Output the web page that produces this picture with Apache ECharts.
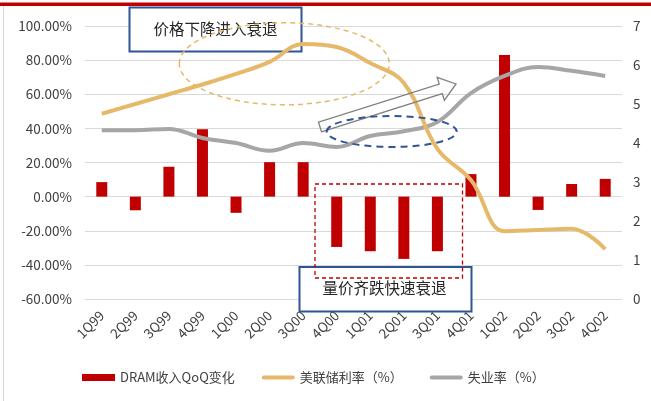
<!DOCTYPE html>
<html><head><meta charset="utf-8">
<script src="https://cdn.jsdelivr.net/npm/echarts@6/dist/echarts.min.js"></script>
<style>html,body{margin:0;padding:0;background:#fff}#c{width:651px;height:401px}</style>
</head><body><div id="c"></div><script>
const categories = ['1Q99','2Q99','3Q99','4Q99','1Q00','2Q00','3Q00','4Q00','1Q01','2Q01','3Q01','4Q01','1Q02','2Q02','3Q02','4Q02'];
const dramQoQ = [8.5, -8, 17.5, 39.5, -9.5, 20.2, 20.2, -29.5, -32, -36.5, -32, 13.2, 83, -7.8, 7.4, 10.4];
const fedRate = [4.75, 5.0, 5.25, 5.5, 5.77, 6.08, 6.54, 6.46, 6.05, 5.54, 3.85, 3.05, 1.74, 1.77, 1.8, 1.28];
const unemployment = [4.33, 4.33, 4.36, 4.13, 4.0, 3.8, 4.0, 3.9, 4.18, 4.3, 4.54, 5.28, 5.72, 5.95, 5.85, 5.72];
const seriesNames = ['DRAM收入QoQ变化', '美联储利率（%）', '失业率（%）'];
const notes = ['价格下降进入衰退', '量价齐跌快速衰退'];

const FONT = '"Noto Sans CJK SC", "Noto Sans", sans-serif';
const chart = echarts.init(document.getElementById('c'), null, {renderer: 'canvas'});

// arrow annotation geometry
const S = [320, 127], E = [456, 84];
const dx = E[0]-S[0], dy = E[1]-S[1], len = Math.hypot(dx, dy);
const u = [dx/len, dy/len], n = [-u[1], u[0]];
const w = 5, H = 12, L = 16;
const B = [E[0]-u[0]*L, E[1]-u[1]*L];
const P = (p, k) => [p[0]+n[0]*k, p[1]+n[1]*k];
const arrowPts = [P(S, w), P(B, w), P(B, H), E, P(B, -H), P(B, -w), P(S, -w)];
const lineIcon = 'path://M2,0 H31 A2,2 0 0 1 31,4 H2 A2,2 0 0 1 2,0 Z';

chart.setOption({
  animation: false,
  backgroundColor: '#fff',
  grid: {left: 85, right: 29, top: 26, bottom: 102, containLabel: false},
  legend: {
    left: 77, top: 366, itemWidth: 33, itemHeight: 7, itemGap: 27,
    textStyle: {fontSize: 13, color: '#404040', fontFamily: FONT},
    data: [
      {name: seriesNames[0], icon: 'rect'},
      {name: seriesNames[1], icon: lineIcon},
      {name: seriesNames[2], icon: lineIcon}
    ]
  },
  xAxis: {
    type: 'category', data: categories, boundaryGap: true,
    axisLine: {show: false}, axisTick: {show: false},
    axisLabel: {rotate: 45, fontSize: 13.5, color: '#404040', fontFamily: FONT, margin: 14, interval: 0}
  },
  yAxis: [{
    type: 'value', min: -60, max: 100, interval: 20,
    axisLine: {show: false}, axisTick: {show: false},
    splitLine: {lineStyle: {color: '#D9D9D9', width: 1}},
    axisLabel: {formatter: v => v.toFixed(2) + '%', fontSize: 13.5, color: '#404040', fontFamily: FONT, margin: 13}
  }, {
    type: 'value', min: 0, max: 7, interval: 1, position: 'right',
    axisLine: {show: false}, axisTick: {show: false}, splitLine: {show: false},
    axisLabel: {fontSize: 13.5, color: '#404040', fontFamily: FONT, margin: 11}
  }],
  series: [{
    name: seriesNames[0], type: 'bar', data: dramQoQ, yAxisIndex: 0,
    barWidth: 11, itemStyle: {color: '#C00000'}, z: 2
  }, {
    name: seriesNames[2], type: 'line', data: unemployment, yAxisIndex: 1,
    smooth: 0.4, symbol: 'none', lineStyle: {color: '#A6A6A6', width: 4}, itemStyle: {color: '#A6A6A6'}, z: 3
  }, {
    name: seriesNames[1], type: 'line', data: fedRate, yAxisIndex: 1,
    smooth: 0.4, symbol: 'none', lineStyle: {color: '#E6B96A', width: 4}, itemStyle: {color: '#E6B96A'}, z: 4
  }],
  graphic: [
    {type: 'rect', z: 100, shape: {x: 0, y: 2.5, width: 651, height: 3.5}, style: {fill: '#C00000'}},
    {type: 'line', z: 100, shape: {x1: 3.5, y1: 6, x2: 3.5, y2: 401}, style: {stroke: '#D9D9D9', lineWidth: 1}},
    {type: 'rect', z: 1, shape: {x: 129.5, y: 7.5, width: 172, height: 44}, style: {fill: '#fff', stroke: '#2F5597', lineWidth: 2}},
    {type: 'text', z: 1, style: {x: 215.5, y: 29.5, text: notes[0], align: 'center', verticalAlign: 'middle', fontSize: 15.5, fill: '#262626', fontFamily: FONT}},
    {type: 'ellipse', z: 102, shape: {cx: 284.3, cy: 63.8, rx: 105, ry: 41}, style: {fill: 'none', stroke: '#E6B96A', lineWidth: 1.5, lineDash: [5, 4]}},
    {type: 'polygon', z: 102, shape: {points: arrowPts}, style: {fill: 'none', stroke: '#7F7F7F', lineWidth: 1.3}},
    {type: 'ellipse', z: 102, shape: {cx: 391.7, cy: 131.5, rx: 65, ry: 15.5}, style: {fill: 'none', stroke: '#2F5597', lineWidth: 2, lineDash: [7, 5]}},
    {type: 'rect', z: 1, shape: {x: 299.5, y: 267, width: 172, height: 44.5}, style: {fill: '#fff', stroke: '#2F5597', lineWidth: 2}},
    {type: 'text', z: 1, style: {x: 384.5, y: 288.5, text: notes[1], align: 'center', verticalAlign: 'middle', fontSize: 15.5, fill: '#262626', fontFamily: FONT}},
    {type: 'rect', z: 102, shape: {x: 315, y: 184, width: 147.5, height: 94}, style: {fill: 'none', stroke: '#C00000', lineWidth: 1.3, lineDash: [4, 3]}}
  ]
});
</script></body></html>
